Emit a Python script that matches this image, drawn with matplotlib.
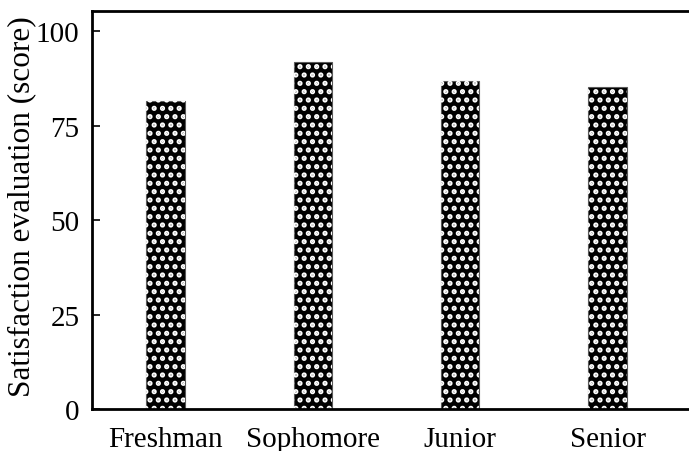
import matplotlib
matplotlib.use('agg')
import matplotlib.pyplot as plt
import numpy as np

grades = ['Freshman', 'Sophomore', 'Junior', 'Senior']
scores = [81.5, 91.8, 86.8, 85.2]
yticks = [0, 25, 50, 75, 100]

plt.rcParams['font.family'] = ['Liberation Serif', 'DejaVu Serif']
plt.rcParams['hatch.linewidth'] = 2.5

fig = plt.figure(figsize=(6.89, 4.52), dpi=100)
ax = fig.add_axes([92/689, 1 - 410/452, 1 - 92/689 + 0.01, (410 - 12)/452])

x = np.arange(len(grades))
ax.bar(x, scores, width=0.26, color='black', edgecolor='0.35', linewidth=0.8)
# white dot pattern on top of the black bars
ax.bar(x, scores, width=0.26, facecolor='none', edgecolor='white',
       hatch='..', linewidth=0)

ax.set_xlim(-0.5, 3.6)
ax.set_ylim(0, 105.3)
ax.set_xticks(x)
ax.set_xticklabels(grades, fontsize=21)
ax.set_yticks(yticks)
ax.set_yticklabels([str(v) for v in yticks], fontsize=21)
ax.tick_params(axis='x', length=0, pad=12)
ax.tick_params(axis='y', direction='in', length=6, width=1.2, pad=9)
ax.set_ylabel('Satisfaction evaluation (score)', fontsize=22.5)
ax.yaxis.set_label_coords(-0.093, 0.51)

for side in ['left', 'bottom', 'top']:
    ax.spines[side].set_linewidth(2)
ax.spines['right'].set_visible(False)

fig.savefig('out.png', dpi=100)
